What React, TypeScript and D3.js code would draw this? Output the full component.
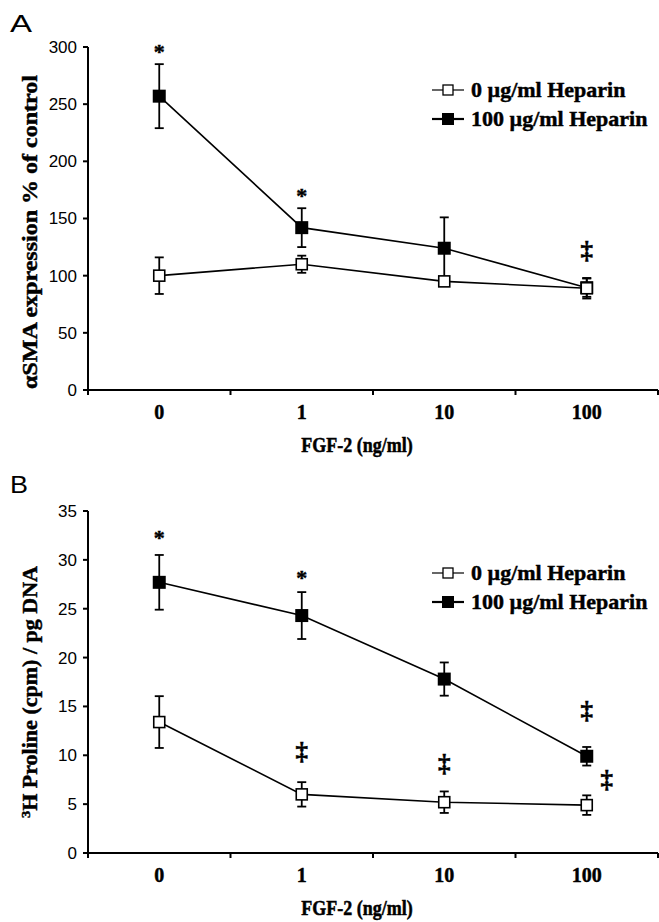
import React from "react";
import * as d3 from "d3";

const categories = ["0", "1", "10", "100"];
const seriesNames = ["0 µg/ml Heparin", "100 µg/ml Heparin"];

const openA = [100, 110, 95, 89];
const openAErr = [16, 7.5, 4, 9];
const filledA = [257, 142, 124, 89.5];
const filledAErr = [28, 17, 27, 8];
const ticksA = [0, 50, 100, 150, 200, 250, 300];

const openB = [13.4, 6.0, 5.2, 4.9];
const openBErr = [2.65, 1.25, 1.1, 1.0];
const filledB = [27.7, 24.3, 17.8, 9.9];
const filledBErr = [2.8, 2.4, 1.7, 0.95];
const ticksB = [0, 5, 10, 15, 20, 25, 30, 35];

const marksA = [
  { cat: "0", value: 299, symbol: "*", side: false },
  { cat: "1", value: 173, symbol: "*", side: false },
  { cat: "100", value: 121, symbol: "‡", side: false },
];
const marksB = [
  { cat: "0", value: 32.6, symbol: "*", side: false },
  { cat: "1", value: 28.5, symbol: "*", side: false },
  { cat: "1", value: 10.2, symbol: "‡", side: false },
  { cat: "10", value: 9.0, symbol: "‡", side: false },
  { cat: "100", value: 14.4, symbol: "‡", side: false },
  { cat: "100", value: 7.4, symbol: "‡", side: true },
];

const SERIF = "'Liberation Serif', 'Times New Roman', serif";
const SANS = "'Liberation Sans', Arial, sans-serif";
const HEAVY = { stroke: "#000", strokeWidth: 0.45 };

type PanelProps = {
  letter: string;
  letterWidth: number;
  letterY: number;
  top: number;
  bottom: number;
  yMax: number;
  ticks: number[];
  open: number[];
  openErr: number[];
  filled: number[];
  filledErr: number[];
  marks: { cat: string; value: number; symbol: string; side: boolean }[];
  yTitle: React.ReactNode;
  yTitleLen: number;
  yTitleCenter: number;
  legendY: number;
};

function Panel(p: PanelProps) {
  const left = 88;
  const right = 658;
  const x = d3.scaleBand<string>().domain(categories).range([left, right]).padding(0);
  const y = d3.scaleLinear().domain([0, p.yMax]).range([p.bottom, p.top]);
  const cx = (c: string) => (x(c) as number) + x.bandwidth() / 2;
  const line = d3
    .line<number>()
    .x((_, i) => cx(categories[i]))
    .y((d) => y(d));
  const boundaries = categories.map((c) => x(c) as number).concat([x.range()[1]]);

  const errorBars = (vals: number[], errs: number[]) =>
    vals.map((v, i) => {
      const xc = cx(categories[i]);
      const t = y(v + errs[i]);
      const b = y(v - errs[i]);
      return (
        <g key={i} stroke="#000" strokeWidth={1.8}>
          <line x1={xc} x2={xc} y1={t} y2={b} />
          <line x1={xc - 4.5} x2={xc + 4.5} y1={t} y2={t} />
          <line x1={xc - 4.5} x2={xc + 4.5} y1={b} y2={b} />
        </g>
      );
    });

  const lx1 = 432;
  const lx2 = 464;
  const lxc = (lx1 + lx2) / 2;
  const tx = 471;

  return (
    <g>
      <text x={10} y={p.letterY} fontFamily={SANS} fontSize={24} textLength={p.letterWidth} lengthAdjust="spacingAndGlyphs">
        {p.letter}
      </text>
      {/* y axis */}
      <line x1={left} x2={left} y1={p.top} y2={p.bottom + 5} stroke="#000" strokeWidth={2} />
      {p.ticks.map((t) => (
        <g key={t}>
          <line x1={left - 5} x2={left} y1={y(t)} y2={y(t)} stroke="#000" strokeWidth={2} />
          <text x={left - 11} y={y(t)} dy="0.35em" textAnchor="end" fontFamily={SANS} fontSize={17}>
            {t}
          </text>
        </g>
      ))}
      {/* x axis */}
      <line x1={left} x2={right} y1={p.bottom} y2={p.bottom} stroke="#000" strokeWidth={2.2} />
      {boundaries.map((b, i) => (
        <line key={i} x1={b} x2={b} y1={p.bottom} y2={p.bottom + 5} stroke="#000" strokeWidth={2} />
      ))}
      {categories.map((c) => (
        <text key={c} x={cx(c)} y={p.bottom + 29} textAnchor="middle" fontFamily={SERIF} fontWeight="bold" fontSize={20} {...HEAVY}>
          {c}
        </text>
      ))}
      <text
        transform={`translate(${(left + 630) / 2 - 2},${p.bottom + 62}) scale(1,1.2)`}
        textAnchor="middle"
        fontFamily={SERIF}
        fontWeight="bold"
        fontSize={18}
        {...HEAVY}
      >
        FGF-2 (ng/ml)
      </text>
      {/* y title */}
      <text
        transform={`translate(37,${p.yTitleCenter}) rotate(-90)`}
        textAnchor="middle"
        fontFamily={SERIF}
        fontWeight="bold"
        fontSize={20}
        textLength={p.yTitleLen}
        lengthAdjust="spacingAndGlyphs"
        {...HEAVY}
      >
        {p.yTitle}
      </text>
      {/* filled series */}
      <path d={line(p.filled) as string} fill="none" stroke="#000" strokeWidth={1.6} />
      {errorBars(p.filled, p.filledErr)}
      {p.filled.map((v, i) => (
        <rect key={i} x={cx(categories[i]) - 6.5} y={y(v) - 6.5} width={13} height={13} fill="#000" />
      ))}
      {/* open series */}
      <path d={line(p.open) as string} fill="none" stroke="#000" strokeWidth={1.6} />
      {errorBars(p.open, p.openErr)}
      {p.open.map((v, i) => (
        <rect key={i} x={cx(categories[i]) - 5.5} y={y(v) - 5.5} width={11} height={11} fill="#fff" stroke="#000" strokeWidth={1.6} />
      ))}
      {/* significance marks */}
      {p.marks.map((m, i) =>
        m.symbol === "*" ? (
          <text key={i} x={cx(m.cat)} y={y(m.value) + 10.5} textAnchor="middle" fontFamily={SERIF} fontWeight="bold" fontSize={22} {...HEAVY}>
            *
          </text>
        ) : (
          <text
            key={i}
            x={cx(m.cat) + (m.side ? 20 : 0)}
            y={y(m.value) + 7}
            textAnchor="middle"
            fontFamily={SERIF}
            fontWeight="bold"
            fontSize={25}
            {...HEAVY}
          >
            ‡
          </text>
        )
      )}
      {/* legend */}
      <g>
        <line x1={lx1} x2={lx2} y1={p.legendY} y2={p.legendY} stroke="#000" strokeWidth={1.2} />
        <rect x={lxc - 5} y={p.legendY - 5} width={10} height={10} fill="#fff" stroke="#000" strokeWidth={1.3} />
        <text x={tx} y={p.legendY + 7} fontFamily={SERIF} fontWeight="bold" fontSize={22} {...HEAVY}>
          {seriesNames[0]}
        </text>
        <line x1={lx1} x2={lx2} y1={p.legendY + 29} y2={p.legendY + 29} stroke="#000" strokeWidth={2.2} />
        <rect x={lxc - 6} y={p.legendY + 29 - 6} width={12} height={12} fill="#000" />
        <text x={tx} y={p.legendY + 29 + 7} fontFamily={SERIF} fontWeight="bold" fontSize={22} {...HEAVY}>
          {seriesNames[1]}
        </text>
      </g>
    </g>
  );
}

export default function App() {
  return (
    <div style={{ position: "absolute", left: 0, top: 0 }}>
      <svg width={659} height={922} style={{ display: "block", background: "#fff" }}>
        <rect width={659} height={922} fill="#fff" />
        <Panel
          letter="A"
          letterWidth={22}
          letterY={32}
          top={47}
          bottom={390}
          yMax={300}
          ticks={ticksA}
          open={openA}
          openErr={openAErr}
          filled={filledA}
          filledErr={filledAErr}
          marks={marksA}
          yTitle="αSMA expression % of control"
          yTitleLen={314}
          yTitleCenter={232}
          legendY={90}
        />
        <Panel
          letter="B"
          letterWidth={18}
          letterY={493}
          top={511}
          bottom={853}
          yMax={35}
          ticks={ticksB}
          open={openB}
          openErr={openBErr}
          filled={filledB}
          filledErr={filledBErr}
          marks={marksB}
          yTitle={
            <>
              <tspan fontSize={13} dy={-7}>3</tspan>
              <tspan dy={7}>H Proline (cpm) / pg DNA</tspan>
            </>
          }
          yTitleLen={252}
          yTitleCenter={692}
          legendY={573}
        />
      </svg>
    </div>
  );
}
